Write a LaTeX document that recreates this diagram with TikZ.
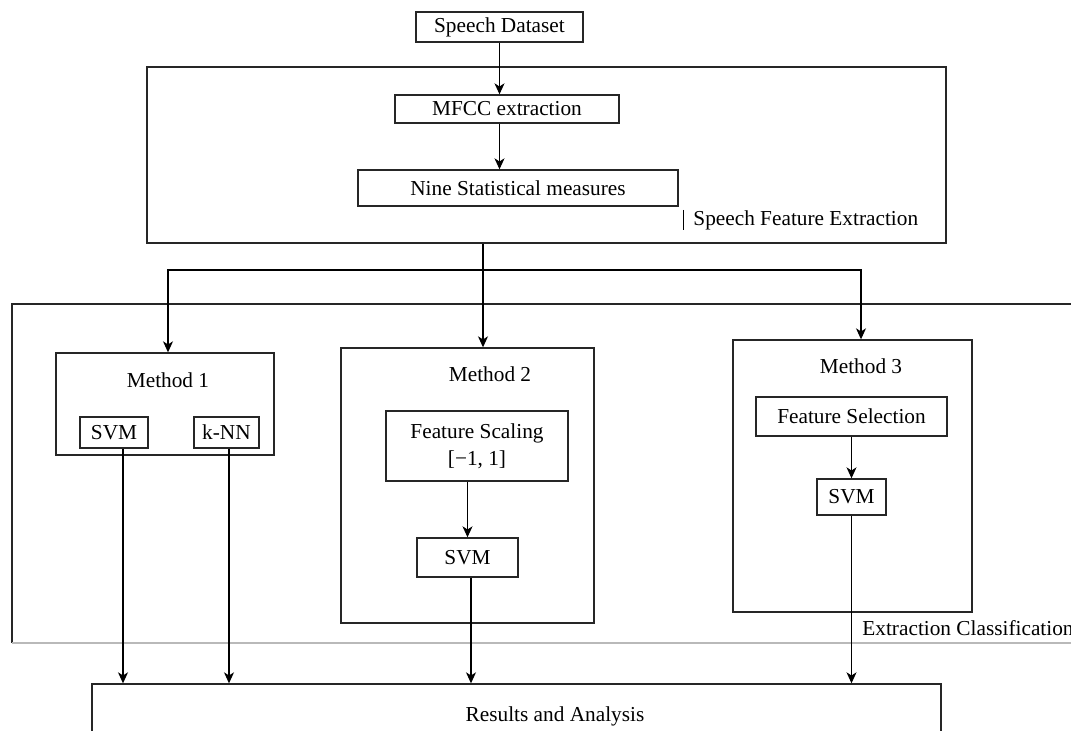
\documentclass[tikz,border=0pt]{standalone}
\usepackage{fontspec}
\setmainfont{Liberation Serif}
\usetikzlibrary{arrows.meta,positioning,calc}
\tikzset{box/.style={draw=black!85,line width=0.7pt,inner sep=0pt,align=center},arr/.style={-{Stealth[length=5.5pt,width=5pt,inset=1.6pt]},line width=0.55pt},lab/.style={anchor=base,inner sep=0pt}}

\begin{document}
\begin{tikzpicture}[x=0.5pt,y=-0.5pt,font=\fontsize{10.65}{13.5}\selectfont]
\clip (0,0) rectangle (1071,730);
% speech feature extraction
\node[box,minimum width=83.5pt,minimum height=15pt] (ds) at (499.5,27) {Speech Dataset};
\node[box,minimum width=399.5pt,minimum height=88pt] (fe) at (546.5,155) {};
\node[box,minimum width=112pt,minimum height=14pt] (mfcc) at (507,109) {MFCC extraction};
\node[box,minimum width=160pt,minimum height=18pt] (nine) at (518,188) {Nine Statistical measures};
\node[lab,anchor=base west] (felab) at (693,225) {Speech Feature Extraction};
\draw[line width=0.5pt] ([xshift=-5pt]felab.north west) -- ([xshift=-5pt]felab.south west);
\draw[arr] (ds) -- (ds |- mfcc.north);
\draw[arr] (ds |- mfcc.south) -- (ds |- nine.north);
% extraction classification
\draw[line width=0.7pt,black!85] (1080,304) -- (12,304) -- (12,643);
\draw[line width=0.6pt,gray!55] (12,643) -- (1080,643);
\node[lab,anchor=base west] (eclab) at (862,635) {Extraction Classification};
% method 1
\node[box,minimum width=109pt,minimum height=51pt] (m1) at (165,404) {};
\node[lab] (m1t) at (168,387) {Method 1};
\node[box,minimum width=34pt,minimum height=15.5pt] (svm1) at (114,432.5) {SVM};
\node[box,minimum width=32.5pt,minimum height=15.5pt] (knn) at (226.5,432.5) {k-NN};
% method 2
\node[box,minimum width=126.5pt,minimum height=137.5pt] (m2) at (467.5,485.5) {};
\node[lab] (m2t) at (490,381) {Method 2};
\node[box,minimum width=91pt,minimum height=35pt] (fs) at (477,446) {Feature Scaling\\{}[−1, 1]};
\node[box,minimum width=50.5pt,minimum height=19.5pt] (svm2) at (467.5,557.5) {SVM};
\draw[arr] (fs.south -| svm2) -- (svm2.north);
% method 3
\node[box,minimum width=119.5pt,minimum height=136pt] (m3) at (852.5,476) {};
\node[lab] (m3t) at (861,373) {Method 3};
\node[box,minimum width=95.5pt,minimum height=19.5pt] (fsel) at (851.5,416.5) {Feature Selection};
\node[box,minimum width=34.5pt,minimum height=18pt] (svm3) at (851.5,497) {SVM};
\draw[arr] (fsel) -- (svm3);
% split to the three methods
\coordinate (split) at (483,270);
\draw[arr] (split |- fe.south) -- (split |- m2.north);
\draw[arr] (split) -| (m1t |- m1.north);
\draw[arr] (split) -| (m3t |- m3.north);
% results
\node[box,minimum width=424.5pt,minimum height=38pt] (res) at (516.5,722) {};
\node[lab] (restext) at (555,721) {Results and Analysis};
\draw[arr] ($(svm1.south)+(9,0)$) coordinate (a1) -- (a1 |- res.north);
\draw[arr] ($(knn.south)+(2.5,0)$) coordinate (a2) -- (a2 |- res.north);
\draw[arr] ($(svm2.south)+(3.5,0)$) coordinate (a3) -- (a3 |- res.north);
\draw[arr] (svm3) -- (svm3 |- res.north);
\end{tikzpicture}
\end{document}
